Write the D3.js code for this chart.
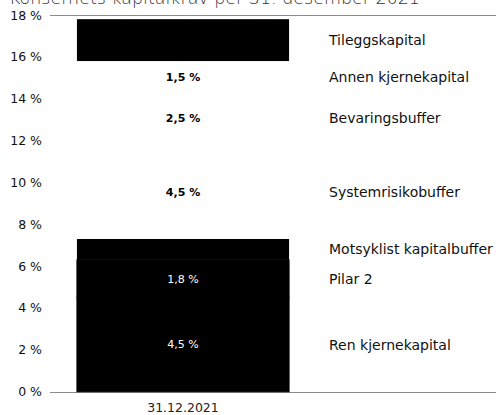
<!DOCTYPE html>
<html>
<head>
<meta charset="utf-8">
<script src="https://cdn.jsdelivr.net/npm/d3@7"></script>
<style>
  html, body { margin: 0; padding: 0; background: #fff; }
  svg { display: block; }
  text { font-family: "DejaVu Sans", Verdana, sans-serif; }
</style>
</head>
<body>
<svg id="chart" width="496" height="415"></svg>
<script>
// Capital requirement components, stacked bottom to top
const components = ["Ren kjernekapital", "Pilar 2", "Motsyklist kapitalbuffer", "Systemrisikobuffer", "Bevaringsbuffer", "Annen kjernekapital", "Tileggskapital"];
const values = [4.5, 1.8, 1.0, 4.5, 2.5, 1.5, 2.0];
const fills = ["#000", "#000", "#000", "#fff", "#fff", "#fff", "#000"];
const valueLabels = ["4,5 %", "1,8 %", "", "4,5 %", "2,5 %", "1,5 %", ""];
const labelColors = ["#fff", "#fff", "#000", "#000", "#000", "#000", "#fff"];
const labelWeights = ["normal", "normal", "normal", "bold", "bold", "bold", "normal"];
const category = ["31.12.2021"];
const yTicks = [0, 2, 4, 6, 8, 10, 12, 14, 16, 18];
const title = "Konsernets kapitalkrav per 31. desember 2021";

const svg = d3.select("#chart");
const W = 496, H = 415;
const plotLeft = 50;

const y = d3.scaleLinear().domain([0, 18]).range([391.7, 15]);
const x = d3.scaleBand().domain(category).range([50, 316]).paddingInner(0).paddingOuter(0.127);

// stack the segments
let acc = 0;
const segs = values.map((v, i) => {
  const s = { name: components[i], v, y0: acc, y1: acc + v, i };
  acc += v;
  return s;
});

// title (partly above the top edge)
svg.append("text")
  .attr("x", 9).attr("y", 3.5)
  .attr("font-size", 17)
  .attr("font-weight", 300)
  .attr("fill", "#333")
  .attr("textLength", 411)
  .attr("lengthAdjust", "spacingAndGlyphs")
  .text(title);

// top and bottom axis lines
[0, 18].forEach(v => {
  const yy = Math.round(y(v)) + 0.5;
  svg.append("line")
    .attr("x1", plotLeft).attr("x2", W)
    .attr("y1", yy).attr("y2", yy)
    .attr("stroke", "#8a8a8a").attr("stroke-width", 1);
});

// y tick labels
const yAxis = d3.axisLeft(y).tickValues(yTicks).tickSize(0).tickPadding(0)
  .tickFormat(d => d + " %");
const gy = svg.append("g").attr("transform", "translate(42,0)").call(yAxis);
gy.select(".domain").remove();
gy.selectAll("text")
  .attr("font-size", 12.5)
  .attr("fill", "#111")
  .attr("font-family", "'DejaVu Sans', Verdana, sans-serif");

// bar segments
const bx = x(category[0]), bw = x.bandwidth();
svg.append("g").selectAll("rect").data(segs).join("rect")
  .attr("x", bx)
  .attr("width", bw)
  .attr("y", d => y(d.y1))
  .attr("height", d => y(d.y0) - y(d.y1))
  .attr("fill", d => fills[d.i])
  .attr("stroke", d => d.i < 2 ? "#000" : "none")
  .attr("stroke-width", 1);

// value labels inside segments
svg.append("g").selectAll("text").data(segs.filter(d => valueLabels[d.i])).join("text")
  .attr("x", bx + bw / 2)
  .attr("y", d => y((d.y0 + d.y1) / 2))
  .attr("dy", "0.35em")
  .attr("text-anchor", "middle")
  .attr("font-size", 11)
  .attr("font-weight", d => labelWeights[d.i])
  .attr("fill", d => labelColors[d.i])
  .text(d => valueLabels[d.i]);

// component names on the right
svg.append("g").selectAll("text").data(segs).join("text")
  .attr("x", 329)
  .attr("y", d => y((d.y0 + d.y1) / 2))
  .attr("dy", "0.35em")
  .attr("font-size", 14)
  .attr("fill", "#111")
  .text(d => d.name);

// category label
svg.append("text")
  .attr("x", bx + bw / 2).attr("y", 412)
  .attr("text-anchor", "middle")
  .attr("font-size", 12.5)
  .attr("fill", "#222")
  .text(category[0]);
</script>
</body>
</html>
